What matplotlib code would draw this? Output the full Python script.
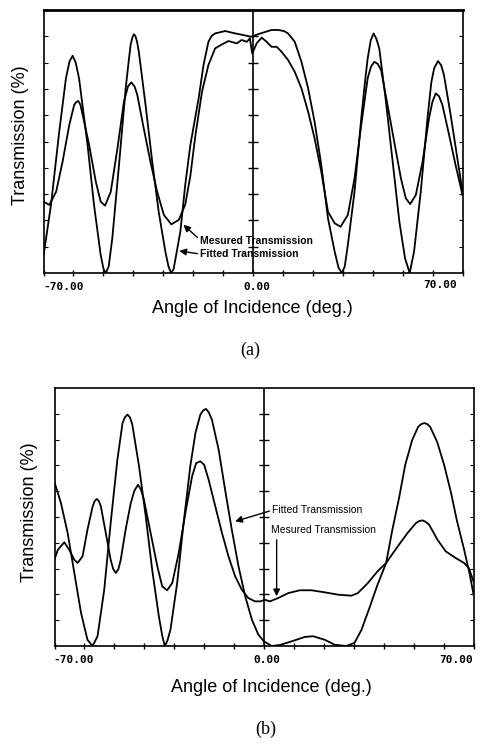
import numpy as np
import matplotlib
matplotlib.use('Agg')
from matplotlib import pyplot as plt

# angle (deg), transmission (%)
a_fit_x = [-81.3, -78.4, -75.2, -72.6, -71.2, -70.0, -68.8, -67.5, -64.2, -61.7, -59.1, -58.0, -57.1, -56.0,
           -54.6, -52.0, -49.4, -48.3, -47.5, -46.8, -46.2, -45.6, -45.0, -44.3, -41.7, -39.1, -36.6, -34.0,
           -32.8, -31.8, -30.8, -28.2, -26.3, -24.3, -21.1, -19.2, -17.3, -16.0, -14.7, -10.8, -6.9, -2.4,
           -0.8, 2.0, 7.2, 9.8, 12.0, 13.6, 16.2, 18.8, 21.4, 23.9, 26.5, 29.1, 31.7, 33.2, 34.5, 35.6, 36.8,
           39.4, 42.0, 43.5, 44.5, 45.7, 46.8, 47.9, 49.0, 51.6, 54.2, 56.8, 59.0, 60.8, 62.5, 65.1, 67.7,
           69.2, 70.3, 71.8, 73.0, 74.1, 76.7, 79.3, 81.3]
a_fit_y = [6.5, 25.9, 53.7, 74.0, 80.5, 82.6, 80.0, 74.0, 48.7, 25.9, 6.8, 1.5, 0.0, 2.5,
           13.2, 41.1, 70.2, 80.0, 86.7, 89.6, 90.8, 90.0, 88.0, 84.1, 63.9, 42.3, 23.3, 8.1,
           2.5, 0.0, 1.5, 15.7, 33.5, 48.7, 66.4, 79.1, 87.9, 90.2, 91.1, 92.0, 91.1, 90.2,
           89.8, 90.8, 92.4, 92.4, 92.0, 91.1, 87.9, 80.3, 70.2, 57.5, 41.1, 20.8, 8.1, 2.0, 0.0, 2.5, 10.6,
           30.9, 58.8, 73.0, 81.6, 88.5, 91.1, 89.0, 85.4, 65.1, 42.3, 19.5, 5.6, 0.0, 8.1, 30.9, 58.8,
           72.5, 77.8, 80.6, 79.0, 75.3, 60.1, 43.6, 31.0]

a_meas_x = [-81.3, -79.0, -76.4, -73.9, -71.3, -69.4, -68.6, -67.8, -67.0, -66.1, -63.6, -61.0, -59.1, -57.4,
            -55.2, -52.6, -50.1, -48.5, -47.2, -45.9, -44.9, -42.4, -39.8, -37.2, -34.6, -31.7, -28.8, -26.3,
            -24.3, -22.4, -19.8, -17.3, -14.7, -12.1, -9.5, -6.3, -4.4, -2.4, -1.2, -0.3, 1.4, 3.4, 5.3, 7.2,
            9.2, 11.1, 13.6, 16.2, 18.8, 21.4, 23.9, 26.5, 29.1, 31.7, 34.0, 36.8, 39.4, 42.0, 44.5, 45.8,
            47.1, 48.4, 49.7, 52.2, 54.8, 57.4, 59.3, 61.0, 63.2, 65.8, 68.3, 69.6, 70.9, 72.2, 73.5, 76.1,
            78.6, 81.3]
a_meas_y = [27.1, 25.9, 30.9, 42.3, 56.3, 63.9, 65.0, 65.4, 64.0, 60.1, 48.7, 34.7, 27.1, 25.6,
            30.9, 47.4, 65.1, 71.0, 72.5, 70.8, 67.7, 55.0, 42.3, 30.9, 22.1, 18.5, 20.2, 26.0,
            37.0, 52.0, 68.9, 79.1, 85.4, 86.9, 88.2, 87.3, 88.6, 87.9, 89.2, 83.5, 87.3, 89.5, 87.9, 86.0,
            86.0, 84.1, 81.0, 76.5, 70.2, 61.3, 51.2, 38.5, 23.3, 18.9, 17.6, 22.1, 36.0, 56.3, 74.0, 78.5,
            80.3, 79.5, 77.2, 63.9, 49.9, 36.0, 28.4, 26.2, 29.7, 42.3, 58.8, 65.0, 68.3, 67.2, 63.9, 52.5,
            41.1, 29.7]

b_fit_x = [-81.3, -78.8, -76.2, -73.6, -71.0, -68.5, -66.5, -64.6, -62.0, -59.5, -56.9, -54.9, -54.0, -53.0,
           -52.0, -51.1, -48.5, -45.9, -43.4, -40.8, -39.5, -38.5, -37.5, -36.3, -33.7, -31.2, -28.6, -26.6,
           -24.7, -23.6, -22.5, -21.4, -20.2, -17.6, -15.1, -12.5, -9.9, -7.3, -4.7, -2.2, 0.0, 3.0, 6.2,
           10.7, 15.8, 19.0, 23.6, 27.4, 31.9, 35.1, 37.8, 40.9, 44.0, 47.4, 49.8, 52.5, 54.8, 57.5, 59.8,
           61.0, 62.2, 63.4, 64.5, 67.2, 69.9, 72.6, 74.9, 77.6, 79.9, 81.3]
b_fit_y = [63.5, 55.4, 43.8, 28.3, 12.8, 2.4, 0.0, 3.8, 21.8, 47.7, 72.2, 86.4, 88.6, 89.7,
           88.6, 85.8, 69.7, 50.3, 29.6, 11.5, 4.0, 0.0, 2.0, 6.3, 24.4, 47.7, 69.7, 82.6,
           89.7, 91.3, 91.9, 90.5, 87.7, 76.1, 60.6, 45.1, 30.9, 19.3, 10.2, 4.4, 1.8, 0.0, 0.4,
           1.8, 3.5, 3.8, 2.4, 0.5, 0.0, 1.2, 6.2, 14.7, 23.6, 32.2, 45.0, 57.8, 70.2, 79.8, 84.9,
           86.0, 86.4, 86.0, 84.9, 79.1, 70.2, 59.3, 48.4, 37.6, 27.5, 20.0]

b_meas_x = [-81.3, -80.0, -77.5, -75.6, -73.6, -72.3, -70.4, -68.5, -66.5, -65.7, -64.9, -64.1, -63.3, -61.4,
            -59.5, -58.5, -57.5, -56.5, -55.6, -53.7, -51.7, -50.3, -48.9, -47.7, -46.6, -44.0, -41.4, -39.5,
            -37.6, -35.6, -33.1, -30.5, -27.9, -26.3, -24.7, -23.2, -21.5, -18.9, -16.3, -13.8, -11.2, -8.6,
            -6.1, -3.5, -1.5, 0.4, 2.3, 5.5, 9.4, 13.9, 18.4, 23.6, 28.7, 33.9, 36.4, 40.3, 44.1, 47.4, 51.9,
            55.7, 59.0, 60.2, 61.5, 62.8, 64.1, 67.3, 70.5, 74.4, 77.6, 79.5, 81.3]
b_meas_y = [33.5, 37.3, 40.2, 37.3, 33.4, 32.2, 34.8, 45.1, 54.1, 56.2, 57.0, 56.2, 54.1, 43.8,
            33.4, 29.8, 28.3, 29.8, 33.4, 45.1, 55.4, 60.2, 62.5, 60.5, 56.7, 43.8, 30.9, 23.1,
            21.6, 24.4, 36.0, 51.6, 65.8, 70.9, 71.6, 70.2, 64.5, 54.1, 43.8, 34.8, 27.0, 21.8,
            18.6, 17.3, 17.3, 17.9, 17.3, 18.6, 20.5, 21.6, 21.6, 20.8, 19.9, 19.5, 20.5, 24.4, 29.0, 32.2, 38.6,
            43.8, 47.7, 48.4, 48.7, 48.1, 47.0, 41.2, 36.7, 34.1, 32.2, 30.2, 25.0]

xtick_labels = ['-70.00', '0.00', '70.00']
x_label = 'Angle of Incidence (deg.)'
y_label = 'Transmission (%)'

W, H = 483, 746
XL = 81.3


def px(x, y):
    return x / W, 1 - y / H


def panel(fig, rect, fx, fy, mx, my):
    ax = fig.add_axes(rect)
    ax.plot(fx, fy, color='k', lw=1.3)
    ax.plot(mx, my, color='k', lw=1.3)
    ax.set_xlim(-XL, XL)
    ax.set_ylim(0, 100)
    xt = np.linspace(-XL, XL, 15)
    yt = np.arange(10, 100, 10)
    ax.set_xticks(xt)
    ax.set_yticks(yt)
    ax.set_xticklabels([])
    ax.set_yticklabels([])
    ax.tick_params(axis='x', direction='inout', length=5, width=1, top=False)
    ax.tick_params(axis='y', direction='in', length=3, width=0.8, left=True, right=True)
    ax.axvline(0, color='k', lw=1.2)
    ax.plot(np.zeros(len(yt)), yt, ls='none', marker='_', ms=7, mew=1, color='k')
    for s in ax.spines.values():
        s.set_linewidth(1.2)
    return ax


def arrow(rel=(0, 0.5)):
    return dict(arrowstyle='-|>', mutation_scale=10, lw=1, color='k', relpos=rel, shrinkA=0, shrinkB=0)


fig = plt.figure(figsize=(W / 100, H / 100), dpi=100)

# panel (a)
axa = panel(fig, [43.5 / W, 1 - 273 / H, 419 / W, 263 / H], a_fit_x, a_fit_y, a_meas_x, a_meas_y)
axa.spines['top'].set_linewidth(2)
axa.annotate('Mesured Transmission', xy=(-27.0, 18.3), xytext=(-20.5, 12.2),
             fontsize=7.5, fontweight='bold', family='Liberation Sans', ha='left', va='center',
             arrowprops=arrow((0, 0.6)))
axa.annotate('Fitted Transmission', xy=(-28.6, 8.4), xytext=(-20.5, 7.2),
             fontsize=7.5, fontweight='bold', family='Liberation Sans', ha='left', va='center',
             arrowprops=arrow())

# panel (b)
axb = panel(fig, [54.5 / W, 1 - 646 / H, 419 / W, 258 / H], b_fit_x, b_fit_y, b_meas_x, b_meas_y)
axb.annotate('Fitted Transmission', xy=(-11.2, 48.3), xytext=(3.2, 52.8),
             fontsize=7.5, family='Liberation Sans', ha='left', va='center',
             arrowprops=arrow((-0.02, 0.4)))
axb.text(2.7, 45.1, 'Mesured Transmission', fontsize=7.5, family='Liberation Sans', ha='left', va='center')
axb.annotate('', xy=(4.9, 19.3), xytext=(4.9, 41.2), arrowprops=arrow())

tick_font = dict(fontsize=8, family='DejaVu Sans Mono', fontweight='bold', va='center')
lab_font = dict(fontsize=13, family='Liberation Sans', ha='center', va='center')
cap_font = dict(fontsize=13, family='Liberation Serif', ha='center', va='center')

# tick labels, axis titles and captions
fig.text(*px(43, 287), xtick_labels[0], ha='left', **tick_font)
fig.text(*px(257, 287), xtick_labels[1], ha='center', **tick_font)
fig.text(*px(457, 285), xtick_labels[2], ha='right', **tick_font)
fig.text(*px(252, 309), x_label, **lab_font)
fig.text(*px(21, 135), y_label, rotation=90, **lab_font)
fig.text(*px(250, 350), '(a)', **cap_font)

fig.text(*px(53, 660), xtick_labels[0], ha='left', **tick_font)
fig.text(*px(267, 660), xtick_labels[1], ha='center', **tick_font)
fig.text(*px(473, 660), xtick_labels[2], ha='right', **tick_font)
fig.text(*px(271, 687), x_label, **lab_font)
fig.text(*px(30, 512), y_label, rotation=90, **lab_font)
fig.text(*px(266, 729), '(b)', **cap_font)

plt.savefig('out.png', dpi=100)
